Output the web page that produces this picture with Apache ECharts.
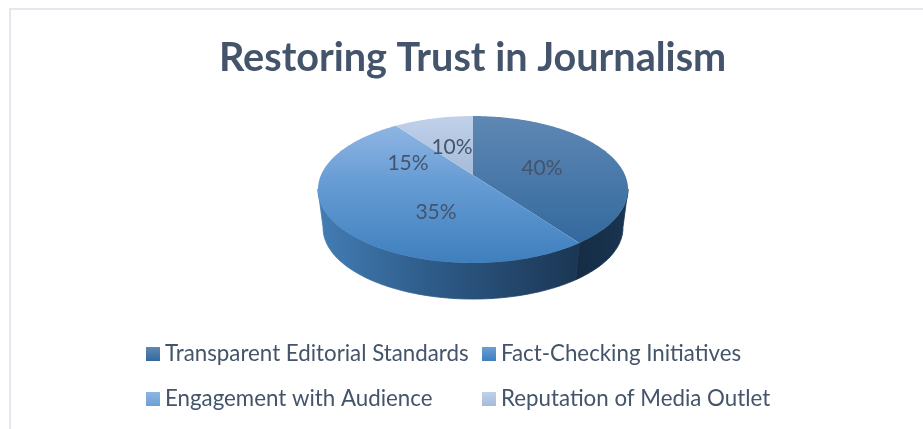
<!DOCTYPE html>
<html><head><meta charset="utf-8">
<style>html,body{margin:0;padding:0;background:#fff}#c{width:923px;height:429px}</style>
<script src="https://cdn.jsdelivr.net/npm/echarts@6/dist/echarts.min.js"></script>
</head><body><div id="c"></div>
<script>
const titleText = 'Restoring Trust in Journalism';
const categories = ['Transparent Editorial Standards','Fact-Checking Initiatives','Engagement with Audience','Reputation of Media Outlet'];
const values = [40,35,15,10];
const topColors = [['#5f88b3','#33699f'],['#6a9fd6','#3e7fbe'],['#8eb5e3','#6c9fd6'],['#c0d1ea','#a6bbd9']];
const sideColors = [['#152c43','#17304a','#1a3552'],['#437db5','#2d5a87','#1b3654'],['#4a86c0','#4a86c0','#4a86c0'],['#8eb5e3','#8eb5e3','#8eb5e3']];
// label placement relative to the pie's apex, per slice (layout only)
const labelOffsets = [[69,-7],[-37,37],[-65,-12],[-21,-28]];

const total = values.reduce((a,b)=>a+b,0);
const g = c => new echarts.graphic.LinearGradient(0,0,0,1,[{offset:0,color:c[0]},{offset:1,color:c[1]}]);
const gh = c => new echarts.graphic.LinearGradient(0,0,1,0,[{offset:0,color:c[0]},{offset:0.45,color:c[1]},{offset:1,color:c[2]}]);

// projected disc
const K=0.197, CX=473;
const topRim = th => { const u=Math.sin(th), v=-Math.cos(th), w=1-K*v; return [CX+152*u/w, 175+70.6*v/w]; };
const botRim = th => { const u=Math.sin(th), v=-Math.cos(th), w=1-K*v; return [CX+147*u/w, 214+68.3*v/w]; };
const rad = d => d*Math.PI/180;
const arc = (fn,a,b) => { const p=[]; const n=Math.max(2,Math.ceil(b-a)); for(let i=0;i<=n;i++) p.push(fn(rad(a+(b-a)*i/n))); return p; };

const series = categories.map((name,i)=>{
  const before = values.slice(0,i).reduce((a,b)=>a+b,0);
  const a0 = before/total*360, a1=(before+values[i])/total*360;
  return {
    type:'custom', name, coordinateSystem:'none', data:[values[i]],
    itemStyle:{color:g(topColors[i])},
    renderItem(){
      const children=[];
      const sa=Math.max(a0,101), sb=Math.min(a1,259);
      if(sb>sa){
        children.push({type:'polygon',z2:1,silent:true,
          shape:{points:arc(topRim,sa,sb).concat(arc(botRim,sa,sb).reverse())},
          style:{fill:gh(sideColors[i]),stroke:gh(sideColors[i]),lineWidth:0.8}});
      }
      children.push({type:'polygon',z2:10,
        shape:{points:[[CX,175]].concat(arc(topRim,a0,a1))},
        style:{fill:g(topColors[i])}});
      children.push({type:'text',z2:20,silent:true,
        x:CX+labelOffsets[i][0], y:175+labelOffsets[i][1],
        style:{text:values[i]+'%',fill:'#44546a',font:'21px Lato',align:'center',verticalAlign:'middle'}});
      return {type:'group',children};
    }
  };
});

const chart = echarts.init(document.getElementById('c'),null,{renderer:'canvas'});
const legendBase = {orient:'vertical',itemWidth:14,itemHeight:14,itemGap:23,icon:'rect',
  textStyle:{color:'#44546a',fontFamily:'Lato',fontSize:22.3,padding:[0,0,0,0]},itemStyle:{borderWidth:0}};
chart.setOption({
  animation:false,
  backgroundColor:'#fff',
  title:{text:titleText,left:219,top:38,padding:0,textStyle:{color:'#44546a',fontFamily:'Lato',fontWeight:'bold',fontSize:39.6}},
  legend:[
    Object.assign({},legendBase,{left:146,top:343,padding:0,data:[categories[0],categories[2]]}),
    Object.assign({},legendBase,{left:482,top:343,padding:0,data:[categories[1],categories[3]]})
  ],
  graphic:[{type:'rect',z:-1,silent:true,shape:{x:10,y:9,width:940,height:460},style:{fill:'none',stroke:'#e3e7ee',lineWidth:2}}],
  series
});
</script></body></html>
